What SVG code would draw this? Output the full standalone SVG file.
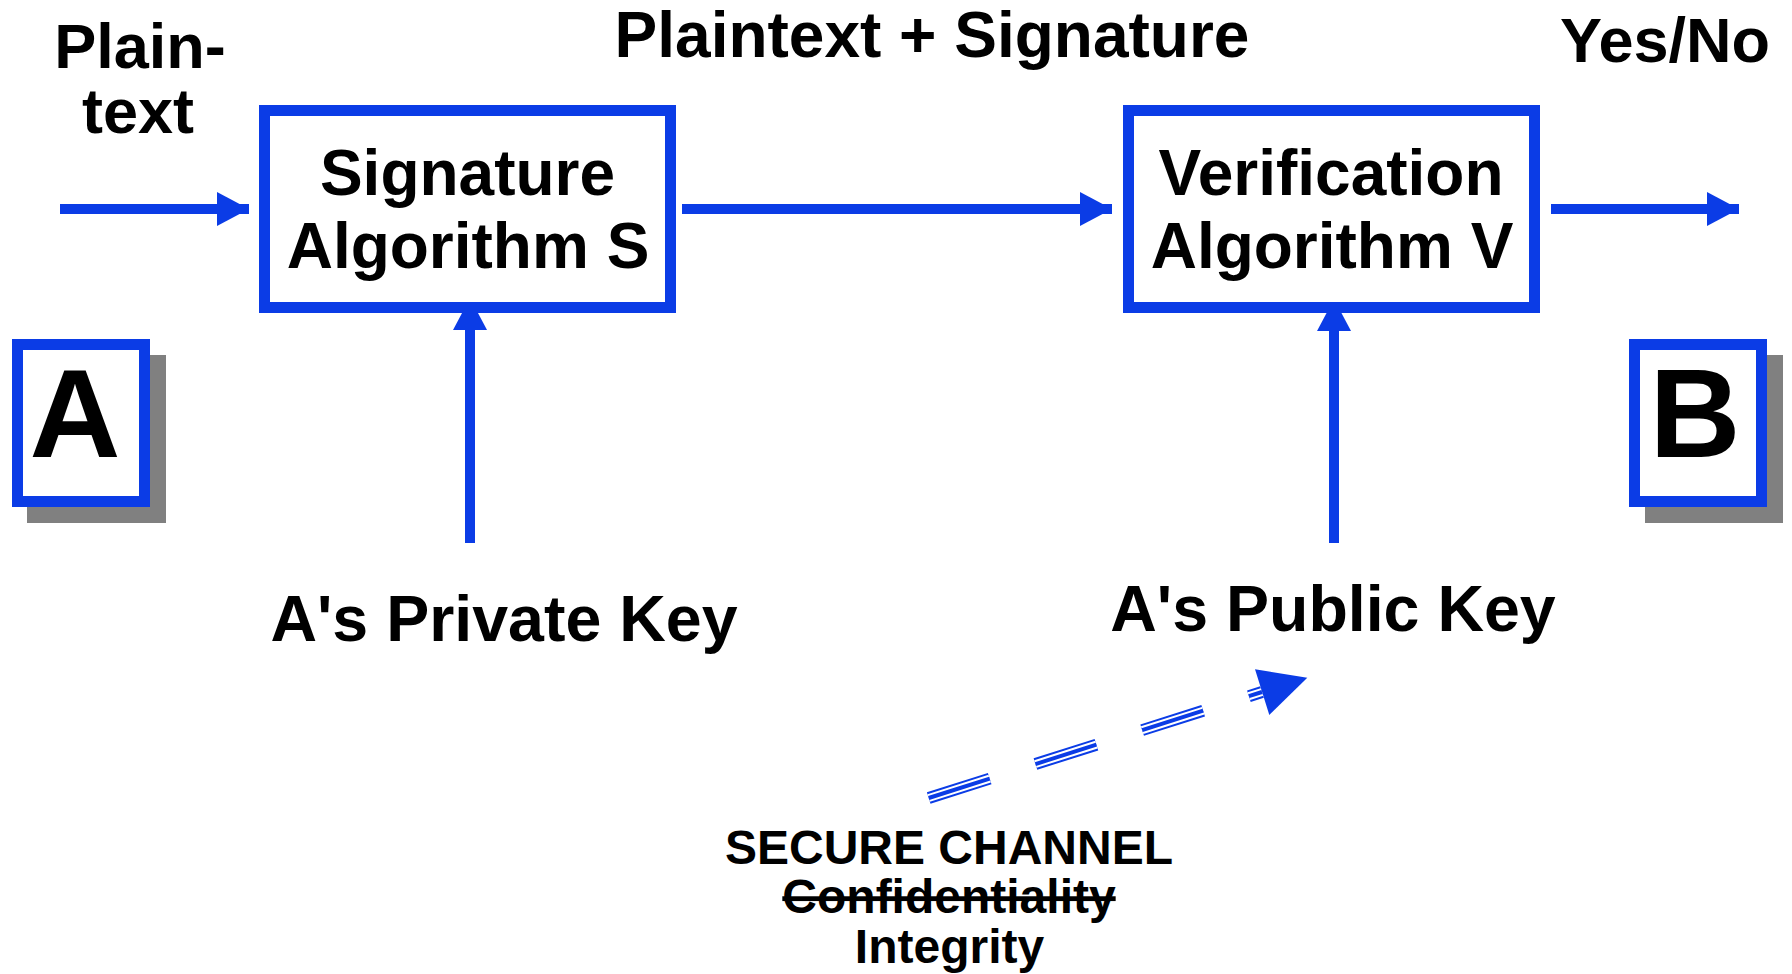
<svg xmlns="http://www.w3.org/2000/svg" width="1792" height="974" viewBox="0 0 1792 974">
<style>
text{font-family:"Liberation Sans",Arial,sans-serif;font-weight:bold;fill:#000;text-anchor:middle}
.box{fill:#fff;stroke:#0b3ce6;stroke-width:11}
.shadow{fill:#808080}
.conn{stroke:#0b3ce6;stroke-width:10;fill:none}
.big{font-size:63px}
.node{font-size:64px}
.key{font-size:64.5px}
.letter{font-size:126px}
.small{font-size:48px}
</style>
<defs>
<marker id="ah" markerUnits="userSpaceOnUse" markerWidth="32" markerHeight="34" refX="32" refY="17" orient="auto">
<path d="M0,0 L32,17 L0,34 z" fill="#0b3ce6"/>
</marker>
</defs>
<rect width="1792" height="974" fill="#fff"/>

<g id="connectors">
<line class="conn" x1="60" y1="209" x2="249" y2="209" marker-end="url(#ah)"/>
<line class="conn" x1="682" y1="209" x2="1112" y2="209" marker-end="url(#ah)"/>
<line class="conn" x1="1551" y1="209" x2="1739" y2="209" marker-end="url(#ah)"/>
<line class="conn" x1="470" y1="543" x2="470" y2="298" marker-end="url(#ah)"/>
<line class="conn" x1="1334" y1="543" x2="1334" y2="299" marker-end="url(#ah)"/>
<g id="secure-channel">
<path d="M928.7,798 L1262,692" stroke="#0b3ce6" stroke-width="12" stroke-dasharray="64 48" fill="none"/>
<path d="M928.7,798 L1262,692" stroke="#fff" stroke-width="8" stroke-dasharray="64 48" fill="none"/>
<path d="M928.7,798 L1262,692" stroke="#0b3ce6" stroke-width="4" stroke-dasharray="64 48" fill="none"/>
<polygon points="1255,669.3 1307.3,677.7 1269.3,715" fill="#0b3ce6"/>
</g>
</g>

<g id="label-plaintext-in">
<text class="big" x="140" y="68">Plain-</text>
<text class="big" x="138" y="133">text</text>
</g>
<g id="label-plaintext-signature">
<text class="node" x="932" y="57">Plaintext + Signature</text>
</g>
<g id="label-yesno">
<text class="big" x="1665" y="62">Yes/No</text>
</g>

<g id="node-signature">
<rect class="box" x="264.5" y="110.5" width="406" height="197"/>
<text class="node" x="467.5" y="195">Signature</text>
<text class="node" x="468" y="268">Algorithm S</text>
</g>
<g id="node-verification">
<rect class="box" x="1128.5" y="110.5" width="406" height="197"/>
<text class="node" x="1331" y="195">Verification</text>
<text class="node" x="1332" y="268">Algorithm V</text>
</g>

<g id="node-A">
<rect class="shadow" x="27" y="355" width="139" height="168"/>
<rect class="box" x="17.5" y="344.5" width="127" height="157"/>
<text class="letter" x="75" y="457">A</text>
</g>
<g id="node-B">
<rect class="shadow" x="1645" y="355" width="138" height="168"/>
<rect class="box" x="1634.5" y="344.5" width="127" height="157"/>
<text class="letter" x="1695" y="457">B</text>
</g>

<g id="label-private-key">
<text class="key" x="504" y="641">A's Private Key</text>
</g>
<g id="label-public-key">
<text class="key" x="1333" y="631">A's Public Key</text>
</g>

<g id="label-secure-channel">
<text class="small" x="949" y="864">SECURE CHANNEL</text>
<text class="small" x="949" y="913" text-decoration="line-through">Confidentiality</text>
<text class="small" x="949.5" y="963">Integrity</text>
</g>
</svg>
